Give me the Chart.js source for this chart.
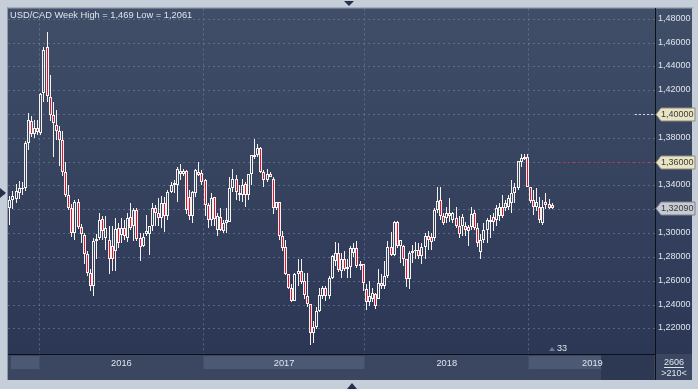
<!DOCTYPE html>
<html>
<head>
<meta charset="utf-8">
<title>USD/CAD Week</title>
<script src="https://cdn.jsdelivr.net/npm/chart.js@4.4.1/dist/chart.umd.min.js"></script>
<style>
  html, body { margin: 0; padding: 0; background: #c6ceda; }
  #chart { display: block; }
</style>
</head>
<body>
<canvas id="chart" width="698" height="389"></canvas>
<script>
// USD/CAD weekly candles, oldest first
const opens = [
  1.3210, 1.3280, 1.3290, 1.3340, 1.3370, 1.3380, 1.3760, 1.3940, 1.3830, 1.3880,
  1.3840, 1.4180, 1.4565, 1.4145, 1.3990, 1.3910, 1.3860, 1.3780, 1.3510, 1.3320,
  1.3210, 1.3000, 1.3260, 1.3050, 1.2987, 1.2820, 1.2667, 1.2555, 1.2930, 1.2958,
  1.3117, 1.2958, 1.2944, 1.2889, 1.2847, 1.3042, 1.2980, 1.3042, 1.2958, 1.3133,
  1.3056, 1.3194, 1.2958, 1.2889, 1.2990, 1.2994, 1.3056, 1.3208, 1.3167, 1.3125,
  1.3250, 1.3139, 1.3347, 1.3417, 1.3403, 1.3522, 1.3500, 1.3519, 1.3300, 1.3139,
  1.3333, 1.3514, 1.3508, 1.3444, 1.3236, 1.3111, 1.3300, 1.3028, 1.3133, 1.3014,
  1.3083, 1.3097, 1.3375, 1.3458, 1.3333, 1.3319, 1.3411, 1.3319, 1.3500, 1.3653,
  1.3653, 1.3717, 1.3514, 1.3444, 1.3494, 1.3458, 1.3208, 1.3264, 1.2972, 1.2883,
  1.2653, 1.2542, 1.2431, 1.2653, 1.2681, 1.2597, 1.2472, 1.2403, 1.2161, 1.2208,
  1.2347, 1.2472, 1.2542, 1.2472, 1.2625, 1.2764, 1.2833, 1.2681, 1.2778, 1.2694,
  1.2717, 1.2833, 1.2875, 1.2722, 1.2736, 1.2533, 1.2417, 1.2450, 1.2486, 1.2444,
  1.2583, 1.2556, 1.2639, 1.2883, 1.2819, 1.3097, 1.2889, 1.2894, 1.2778, 1.2617,
  1.2833, 1.2847, 1.2861, 1.2806, 1.2883, 1.2978, 1.2967, 1.2958, 1.3194, 1.3278,
  1.3139, 1.3125, 1.3167, 1.3111, 1.3125, 1.3056, 1.3056, 1.3056, 1.3050, 1.3050,
  1.3172, 1.3042, 1.2839, 1.2944, 1.3028, 1.3097, 1.3133, 1.3111, 1.3139, 1.3217,
  1.3208, 1.3222, 1.3256, 1.3333, 1.3375, 1.3597, 1.3639, 1.3639, 1.3383, 1.3278,
  1.3217, 1.3217, 1.3083, 1.3264, 1.3244, 1.3236
];
const highs = [
  1.3310, 1.3350, 1.3410, 1.3440, 1.3430, 1.3770, 1.4006, 1.3980, 1.3950, 1.3950,
  1.4180, 1.4560, 1.4690, 1.4330, 1.4100, 1.4030, 1.3900, 1.3860, 1.3600, 1.3400,
  1.3240, 1.3280, 1.3290, 1.3080, 1.3000, 1.2850, 1.2700, 1.2960, 1.2990, 1.3167,
  1.3139, 1.3144, 1.3056, 1.3056, 1.3125, 1.3083, 1.3125, 1.3111, 1.3167, 1.3250,
  1.3208, 1.3208, 1.3000, 1.3000, 1.3153, 1.3056, 1.3250, 1.3236, 1.3292, 1.3311,
  1.3306, 1.3361, 1.3431, 1.3444, 1.3556, 1.3583, 1.3542, 1.3530, 1.3361, 1.3350,
  1.3542, 1.3597, 1.3528, 1.3458, 1.3250, 1.3333, 1.3306, 1.3167, 1.3208, 1.3111,
  1.3208, 1.3472, 1.3542, 1.3486, 1.3403, 1.3450, 1.3431, 1.3500, 1.3653, 1.3792,
  1.3750, 1.3722, 1.3528, 1.3542, 1.3514, 1.3472, 1.3264, 1.3264, 1.3014, 1.2944,
  1.2653, 1.2569, 1.2667, 1.2778, 1.2778, 1.2667, 1.2667, 1.2403, 1.2264, 1.2375,
  1.2542, 1.2556, 1.2556, 1.2639, 1.2819, 1.2922, 1.2917, 1.2833, 1.2847, 1.2778,
  1.2889, 1.2917, 1.2931, 1.2764, 1.2736, 1.2569, 1.2597, 1.2542, 1.2500, 1.2694,
  1.2653, 1.2764, 1.2931, 1.3006, 1.3103, 1.3103, 1.2944, 1.2903, 1.2778, 1.2847,
  1.2903, 1.2922, 1.2917, 1.2917, 1.3000, 1.3014, 1.3000, 1.3208, 1.3389, 1.3383,
  1.3167, 1.3222, 1.3292, 1.3180, 1.3222, 1.3139, 1.3161, 1.3097, 1.3069, 1.3222,
  1.3194, 1.3083, 1.2994, 1.3083, 1.3125, 1.3153, 1.3167, 1.3236, 1.3250, 1.3319,
  1.3278, 1.3319, 1.3444, 1.3417, 1.3606, 1.3661, 1.3661, 1.3661, 1.3389, 1.3361,
  1.3375, 1.3300, 1.3278, 1.3333, 1.3283, 1.3250
];
const lows = [
  1.3070, 1.3200, 1.3250, 1.3290, 1.3320, 1.3350, 1.3700, 1.3810, 1.3800, 1.3820,
  1.3820, 1.4100, 1.4100, 1.3940, 1.3640, 1.3780, 1.3560, 1.3480, 1.3300, 1.3190,
  1.2970, 1.2940, 1.3030, 1.2920, 1.2740, 1.2640, 1.2513, 1.2471, 1.2780, 1.2944,
  1.2944, 1.2861, 1.2653, 1.2681, 1.2681, 1.2875, 1.2917, 1.2944, 1.2922, 1.3028,
  1.2930, 1.2930, 1.2764, 1.2883, 1.2972, 1.2819, 1.3014, 1.3056, 1.3056, 1.3042,
  1.3006, 1.3111, 1.3339, 1.3339, 1.3264, 1.3444, 1.3483, 1.3160, 1.3111, 1.3083,
  1.3306, 1.3483, 1.3400, 1.3139, 1.3042, 1.3056, 1.3056, 1.2972, 1.3014, 1.3000,
  1.3000, 1.3092, 1.3347, 1.3278, 1.3272, 1.3258, 1.3222, 1.3278, 1.3403, 1.3625,
  1.3639, 1.3506, 1.3389, 1.3431, 1.3472, 1.3164, 1.3194, 1.2944, 1.2847, 1.2650,
  1.2528, 1.2417, 1.2431, 1.2556, 1.2569, 1.2444, 1.2375, 1.2061, 1.2078, 1.2194,
  1.2333, 1.2444, 1.2431, 1.2444, 1.2611, 1.2722, 1.2672, 1.2625, 1.2681, 1.2625,
  1.2625, 1.2800, 1.2708, 1.2692, 1.2514, 1.2356, 1.2389, 1.2417, 1.2361, 1.2444,
  1.2528, 1.2528, 1.2625, 1.2806, 1.2806, 1.2875, 1.2750, 1.2722, 1.2550, 1.2528,
  1.2750, 1.2778, 1.2778, 1.2736, 1.2778, 1.2861, 1.2861, 1.2931, 1.3167, 1.3111,
  1.3069, 1.3083, 1.3097, 1.3083, 1.3042, 1.2958, 1.2978, 1.2978, 1.2889, 1.3028,
  1.3028, 1.2883, 1.2778, 1.2917, 1.2917, 1.2958, 1.3014, 1.3056, 1.3100, 1.3125,
  1.3181, 1.3194, 1.3167, 1.3250, 1.3361, 1.3553, 1.3611, 1.3389, 1.3250, 1.3150,
  1.3181, 1.3083, 1.3069, 1.3200, 1.3200, 1.3200
];
const closes = [
  1.3280, 1.3310, 1.3350, 1.3380, 1.3380, 1.3760, 1.3950, 1.3830, 1.3880, 1.3850,
  1.4170, 1.4540, 1.4150, 1.3990, 1.3920, 1.3860, 1.3780, 1.3510, 1.3320, 1.3210,
  1.3000, 1.3260, 1.3050, 1.2990, 1.2820, 1.2667, 1.2555, 1.2930, 1.2950, 1.3111,
  1.3014, 1.3042, 1.2783, 1.2778, 1.3033, 1.2917, 1.3042, 1.2978, 1.3125, 1.3042,
  1.3194, 1.2950, 1.2883, 1.2967, 1.3014, 1.3056, 1.3208, 1.3167, 1.3125, 1.3250,
  1.3139, 1.3347, 1.3403, 1.3406, 1.3542, 1.3500, 1.3522, 1.3190, 1.3144, 1.3347,
  1.3533, 1.3486, 1.3431, 1.3236, 1.3111, 1.3292, 1.3117, 1.3139, 1.3028, 1.3083,
  1.3111, 1.3375, 1.3458, 1.3347, 1.3319, 1.3403, 1.3319, 1.3500, 1.3653, 1.3639,
  1.3717, 1.3514, 1.3444, 1.3500, 1.3472, 1.3208, 1.3264, 1.2972, 1.2875, 1.2653,
  1.2542, 1.2431, 1.2653, 1.2681, 1.2589, 1.2478, 1.2403, 1.2161, 1.2208, 1.2347,
  1.2478, 1.2542, 1.2472, 1.2625, 1.2806, 1.2833, 1.2689, 1.2778, 1.2694, 1.2717,
  1.2875, 1.2875, 1.2722, 1.2736, 1.2583, 1.2417, 1.2472, 1.2500, 1.2389, 1.2583,
  1.2556, 1.2639, 1.2883, 1.2819, 1.3097, 1.2894, 1.2944, 1.2783, 1.2617, 1.2833,
  1.2847, 1.2861, 1.2806, 1.2883, 1.2978, 1.2944, 1.2922, 1.3194, 1.3272, 1.3139,
  1.3083, 1.3167, 1.3144, 1.3167, 1.3061, 1.2994, 1.3133, 1.3028, 1.3014, 1.3161,
  1.3042, 1.2917, 1.2944, 1.3028, 1.3106, 1.3111, 1.3097, 1.3208, 1.3222, 1.3144,
  1.3250, 1.3292, 1.3333, 1.3389, 1.3606, 1.3633, 1.3625, 1.3389, 1.3272, 1.3217,
  1.3264, 1.3106, 1.3222, 1.3236, 1.3208, 1.3209
];

const yearLabels = ['2016', '2017', '2018', '2019'];
const yearStarts = [9.5, 62.5, 114.5, 167.5];   // candle index where each year begins
const yearLabelAt = [36, 88.5, 141, 188];
const priceTicks = [1.22, 1.24, 1.26, 1.28, 1.30, 1.32, 1.34, 1.36, 1.38, 1.40, 1.42, 1.44, 1.46, 1.48];
const alertLevels = [1.40, 1.36];
const titleText = 'USD/CAD Week High = 1,469 Low = 1,2061';
const barCountText = '2606';
const zoomText = '>210<';
const markerText = '33';

const FONT = '"Liberation Sans", Arial, sans-serif';
const WHITE = '#f6f2f0';
const RED = '#e5112f';
const GRID = 'rgba(120,136,166,0.55)';

const fmt = v => v.toFixed(5).replace('.', ',');

// linear scale that snaps pixels so 1px wicks and 3px bodies stay crisp
const LinearScale = Chart.LinearScale || Chart.registry.getScale('linear');
class SnapScale extends LinearScale {
  getPixelForValue(v) {
    const p = super.getPixelForValue(v);
    return this.isHorizontal() ? Math.floor(p) + 0.5 : Math.round(p);
  }
}
SnapScale.id = 'snap';
Chart.register(SnapScale);

const idx = closes.map((c, i) => i);
const lowerWicks = idx.map(i => ({ x: i, y: [lows[i], Math.min(opens[i], closes[i])] }));
const upperWicks = idx.map(i => ({ x: i, y: [Math.max(opens[i], closes[i]), highs[i]] }));
const bodies = idx.map(i => ({ x: i, y: [opens[i], closes[i]] }));
const bodyFill = idx.map(i => closes[i] < opens[i] ? RED : 'rgba(0,0,0,0)');

function tag(ctx, x, y, text, fill, stroke) {
  ctx.beginPath();
  ctx.moveTo(x, y);
  ctx.lineTo(x + 5, y - 6.5);
  ctx.lineTo(x + 39, y - 6.5);
  ctx.lineTo(x + 39, y + 6.5);
  ctx.lineTo(x + 5, y + 6.5);
  ctx.closePath();
  ctx.fillStyle = fill;
  ctx.fill();
  ctx.strokeStyle = stroke;
  ctx.lineWidth = 1;
  ctx.stroke();
  ctx.fillStyle = '#3a3a3a';
  ctx.textAlign = 'left';
  ctx.textBaseline = 'middle';
  ctx.fillText(text, x + 5, y + 0.5);
}

function tri(ctx, pts, color) {
  ctx.beginPath();
  ctx.moveTo(pts[0], pts[1]);
  ctx.lineTo(pts[2], pts[3]);
  ctx.lineTo(pts[4], pts[5]);
  ctx.closePath();
  ctx.fillStyle = color;
  ctx.fill();
}

const panelPlugin = {
  id: 'panel',
  beforeDraw(chart) {
    const { ctx, chartArea: a, scales: { x } } = chart;
    const right = chart.width - 6;
    ctx.save();
    ctx.fillStyle = '#c6ceda';
    ctx.fillRect(0, 0, chart.width, chart.height);
    ctx.fillStyle = '#8e98aa';
    ctx.fillRect(a.left - 1, a.top - 1, right - a.left + 2, 1);
    ctx.fillRect(a.left - 1, a.top - 1, 1, a.bottom - a.top + 27);
    const g = ctx.createLinearGradient(0, a.top, 0, a.bottom);
    g.addColorStop(0, '#414e68');
    g.addColorStop(1, '#2b3755');
    ctx.fillStyle = g;
    ctx.fillRect(a.left, a.top, right - a.left, a.bottom - a.top);
    // time band under the plot
    const bTop = a.bottom, bH = 26;
    ctx.fillStyle = '#3b4761';
    ctx.fillRect(a.left, bTop, right - a.left, bH);
    ctx.fillStyle = '#4b5974';
    const px = v => x.getPixelForValue(v);
    ctx.fillRect(a.left + 3, bTop + 2, px(yearStarts[0]) - a.left - 3, 13);
    ctx.fillRect(px(yearStarts[1]), bTop + 2, px(yearStarts[2]) - px(yearStarts[1]), 13);
    ctx.fillRect(px(yearStarts[3]), bTop + 2, a.right - 54 - px(yearStarts[3]), 13);
    ctx.fillStyle = '#2d3852';
    ctx.fillRect(a.right - 54, bTop + 1, 53, bH - 1);
    ctx.fillStyle = '#3b4761';
    ctx.fillRect(a.right + 1, bTop, right - a.right - 1, bH);
    ctx.fillStyle = '#0c1018';
    ctx.fillRect(a.right, bTop, 1, bH);
    ctx.restore();
  },
  afterDraw(chart) {
    const { ctx, chartArea: a, scales: { y } } = chart;
    ctx.save();
    ctx.font = '9.3px ' + FONT;
    ctx.fillStyle = '#dfe5ee';
    ctx.textAlign = 'left';
    ctx.textBaseline = 'alphabetic';
    ctx.fillText(titleText, 10, 18);

    // alert levels and last price
    const yw = y.getPixelForValue(alertLevels[0]) + 0.5;
    ctx.strokeStyle = '#d4d8de';
    ctx.setLineDash([2, 2]);
    ctx.beginPath(); ctx.moveTo(a.right - 20, yw); ctx.lineTo(a.right, yw); ctx.stroke();
    const yr = y.getPixelForValue(alertLevels[1]) + 0.5;
    ctx.strokeStyle = '#c4262c';
    ctx.setLineDash([1, 2]);
    ctx.beginPath(); ctx.moveTo(a.right - 98, yr); ctx.lineTo(a.right, yr); ctx.stroke();
    ctx.setLineDash([]);
    ctx.font = '9px ' + FONT;
    tag(ctx, a.right + 1, yw, fmt(alertLevels[0]), '#e8e4c4', '#8d8b78');
    tag(ctx, a.right + 1, yr, fmt(alertLevels[1]), '#e8e4c4', '#8d8b78');
    const last = closes[closes.length - 1];
    tag(ctx, a.right + 1, y.getPixelForValue(last) + 0.5, fmt(last), '#c6cad2', '#7d828c');

    // bar counter under the last candles
    ctx.fillStyle = '#dfe5ee';
    ctx.textBaseline = 'alphabetic';
    ctx.fillText(markerText, a.right - 98, a.bottom - 3);
    tri(ctx, [a.right - 106, a.bottom - 3, a.right - 100, a.bottom - 3, a.right - 103, a.bottom - 7], '#6d7a93');

    // box at bottom right
    const cx = a.right + 19;
    ctx.fillStyle = '#dfe5ee';
    ctx.textAlign = 'center';
    ctx.font = '9px ' + FONT;
    ctx.fillText(barCountText, cx, a.bottom + 11);
    ctx.fillRect(cx - 10, a.bottom + 13, 20, 1);
    ctx.fillText(zoomText, cx, a.bottom + 22);

    // little scroll arrows on the frame
    tri(ctx, [344, 1, 354, 1, 349, 6], '#25314a');
    tri(ctx, [347, 389, 357, 389, 352, 383], '#25314a');
    tri(ctx, [0, 188, 0, 198, 6, 193], '#25314a');
    ctx.restore();
  }
};

new Chart(document.getElementById('chart'), {
  type: 'bar',
  data: {
    datasets: [
      { data: lowerWicks, backgroundColor: WHITE, borderWidth: 0, barThickness: 1, grouped: false, inflateAmount: 0 },
      { data: upperWicks, backgroundColor: WHITE, borderWidth: 0, barThickness: 1, grouped: false, inflateAmount: 0 },
      { data: bodies, backgroundColor: bodyFill, borderColor: WHITE, borderWidth: 1, borderSkipped: false,
        barThickness: 3, grouped: false, inflateAmount: 0 }
    ]
  },
  options: {
    responsive: false,
    animation: false,
    devicePixelRatio: 1,
    events: [],
    layout: { padding: { left: 8, top: 8, right: 6, bottom: 9 } },
    plugins: { legend: { display: false }, tooltip: { enabled: false } },
    scales: {
      x: {
        type: 'snap',
        offset: false,
        min: -0.61,
        max: 208.2,
        afterBuildTicks: s => { s.ticks = yearStarts.map(v => ({ value: v })); },
        afterFit: s => { s.height = 0; },
        ticks: { display: false },
        grid: { color: GRID, drawTicks: false, offset: false },
        border: { display: true, color: '#0c1018', width: 1, dash: [2, 3] }
      },
      x2: {
        type: 'linear',
        position: 'bottom',
        offset: false,
        min: -0.61,
        max: 208.2,
        afterBuildTicks: s => { s.ticks = yearLabelAt.map(v => ({ value: v })); },
        afterFit: s => { s.height = 26; },
        grid: { display: false, drawTicks: false, offset: false },
        border: { display: false },
        ticks: {
          autoSkip: false, maxRotation: 0, padding: 4,
          color: '#dfe5ee', font: { family: FONT, size: 9.3 },
          callback: (v, i) => yearLabels[i]
        }
      },
      y: {
        type: 'snap',
        position: 'right',
        min: 1.19844,
        max: 1.48864,
        afterBuildTicks: s => { s.ticks = priceTicks.map(v => ({ value: v })); },
        afterFit: s => { s.width = 37; },
        grid: { color: GRID, drawTicks: false },
        border: { display: true, color: '#0c1018', width: 1, dash: [2, 3] },
        ticks: {
          padding: 3, color: '#dfe5ee', font: { family: FONT, size: 9 },
          callback: v => fmt(v)
        }
      }
    }
  },
  plugins: [panelPlugin]
});
</script>
</body>
</html>
